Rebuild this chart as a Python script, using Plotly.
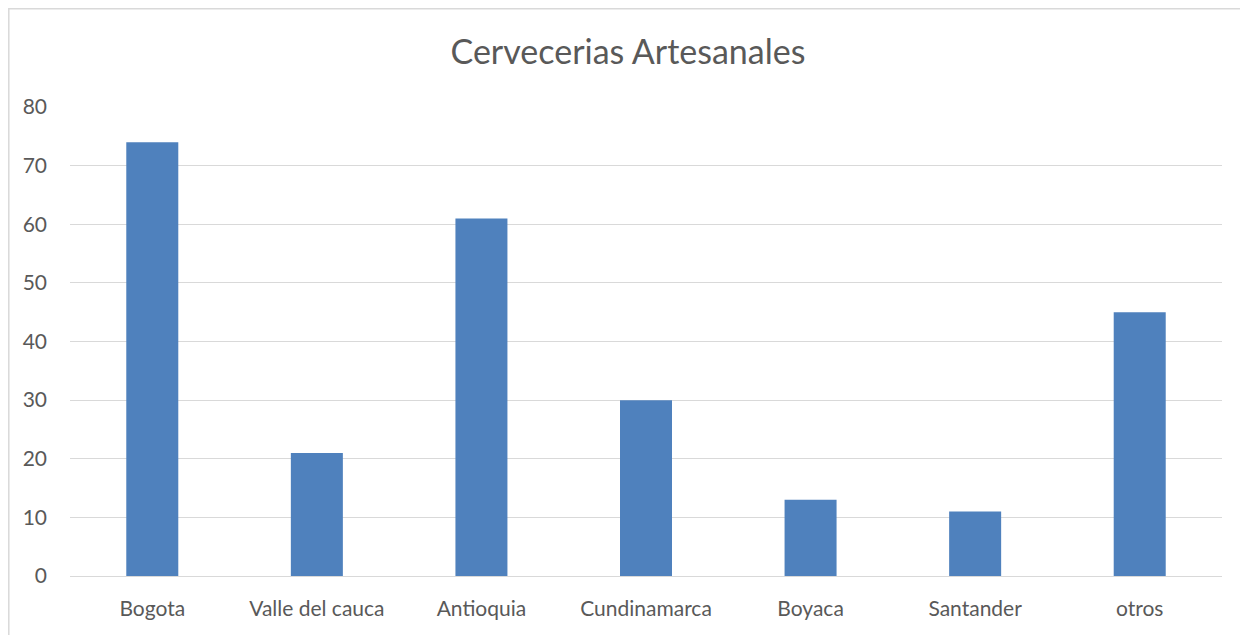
import plotly.graph_objects as go

categories = ["Bogota", "Valle del cauca", "Antioquia", "Cundinamarca", "Boyaca", "Santander", "otros"]
values = [74, 21, 61, 30, 13, 11, 45]
y_ticks = [0, 10, 20, 30, 40, 50, 60, 70, 80]

font_family = "Lato, Carlito, 'Open Sans', sans-serif"
text_color = "#595959"

W, H = 1240, 627
L, T, R, B = 62, 99, 26, 59
PW, PH = W - L - R, H - T - B

fig = go.Figure(go.Bar(x=categories, y=values, marker=dict(color="#4f81bd", line=dict(width=0))))

fig.update_layout(
    width=W, height=H,
    margin=dict(l=L, r=R, t=T, b=B),
    paper_bgcolor="white", plot_bgcolor="white",
    bargap=0.684,
    showlegend=False,
    title=dict(text="Cervecerias Artesanales", x=0.5, xanchor="center", y=1 - 44 / H, yanchor="middle",
               font=dict(family=font_family, size=34, color=text_color)),
    font=dict(family=font_family, size=21, color=text_color),
)
fig.update_yaxes(range=[0, 80], tickvals=y_ticks, showgrid=True, gridcolor="#d9d9d9", gridwidth=1,
                 zeroline=False, showline=False, ticks="", ticklabelstandoff=22,
                 tickfont=dict(size=21, color=text_color))
fig.update_xaxes(showgrid=False, showline=True, linecolor="#d9d9d9", linewidth=1, ticks="",
                 ticklabelstandoff=14, tickfont=dict(size=21, color=text_color))

fig.add_shape(type="rect", xref="paper", yref="paper",
              x0=(0.8 - L) / PW, x1=(W + 10 - L) / PW,
              y0=-(B + 10) / PH, y1=(PH + T - 0.8) / PH,
              line=dict(color="#d9d9d9", width=1.5), fillcolor="rgba(0,0,0,0)", layer="below")

fig.write_html("out.html")
